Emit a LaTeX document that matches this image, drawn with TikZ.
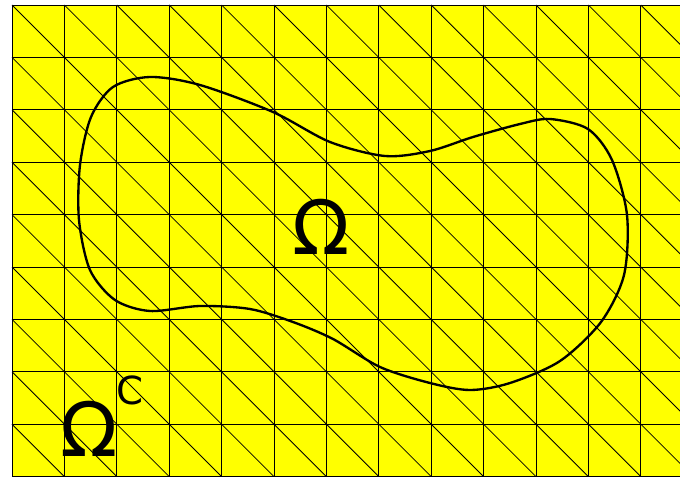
\documentclass[tikz,border=0pt]{standalone}
\usepackage{fontspec}
\setmainfont{DejaVu Sans}
\definecolor{meshfill}{RGB}{255,255,0}

\begin{document}
\begin{tikzpicture}[x=0.03cm, y=-0.03cm,
  gridline/.style={draw=black, line width=0.85pt},
  diagline/.style={draw=black, line width=0.7pt},
  boundary/.style={draw=black, line width=2pt},
  omega/.style={inner sep=0pt, font=\fontsize{64}{64}\selectfont},
  supc/.style={inner sep=0pt, font=\fontsize{33}{33}\selectfont}]
\useasboundingbox (0,0) rectangle (680,476);
\clip (0,0) rectangle (680,476);
\fill[meshfill] (12,5) rectangle (680,476);
% mesh
\foreach \i in {0,...,13}
  \draw[gridline] (12+52.4*\i,5) -- (12+52.4*\i,480);
\foreach \j in {0,...,9}
  \draw[gridline] (12,5+52.4*\j) -- (690,5+52.4*\j);
\foreach \i in {0,...,12}
  \foreach \j in {0,...,8}
    \draw[diagline] (12+52.4*\i,5+52.4*\j) -- ++(52.4,52.4);
% domain boundary
\draw[boundary] plot[smooth cycle, tension=0.5] coordinates {
  (150,77) (200,85) (273,112) (330,142) (385,156) (430,151) (473,137)
  (520,124) (550,119) (588,129) (612,160) (627,215) (624,275) (601,322)
  (560,361) (510,383) (470,390) (430,383) (380,367) (333,339) (293,322)
  (250,309) (200,306) (150,311) (115,300) (90,270) (79,220) (80,165)
  (91,117) (113,87)};
% labels
\node[omega] (inner) at (321,226.5) {Ω};
\node[omega] (outer) at (89,428.5) {Ω};
\node[supc] (outerc) at (130,390) {C};
\end{tikzpicture}
\end{document}
